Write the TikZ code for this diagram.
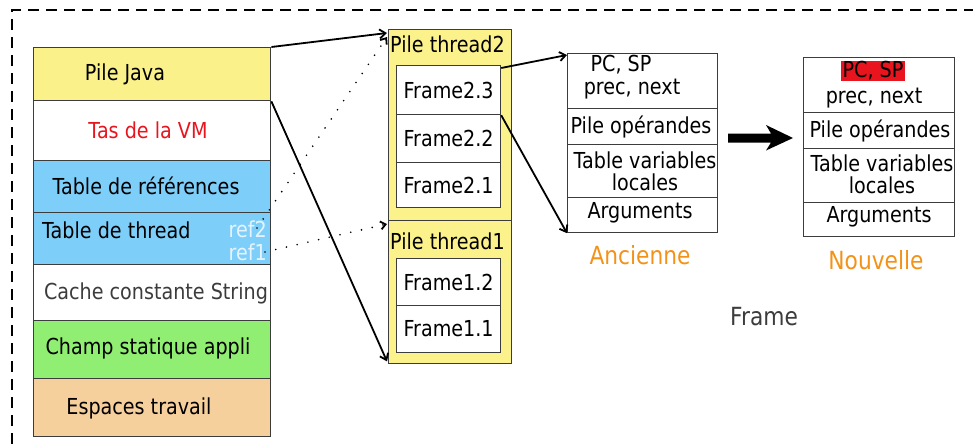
\documentclass[tikz,border=0pt]{standalone}
\usepackage{fontspec}
\setmainfont{DejaVu Sans}[FakeStretch=0.87]
\usetikzlibrary{arrows.meta,calc}
\definecolor{jyellow}{HTML}{FAF18A}
\definecolor{tyellow}{HTML}{FCF28C}
\definecolor{jblue}{HTML}{7DCFFA}
\definecolor{jgreen}{HTML}{90EE72}
\definecolor{jtan}{HTML}{F5CF9C}
\definecolor{jred}{HTML}{E8151F}
\definecolor{jorange}{HTML}{F39219}
\definecolor{jgray}{HTML}{3C3C3C}
\definecolor{reftext}{HTML}{E6F3FF}
\begin{document}
\begin{tikzpicture}[x=1pt,y=-1pt,
  every node/.style={font=\fontsize{22}{23}\selectfont, inner sep=0pt},
  big/.style={font=\fontsize{25}{27}\selectfont},
  cell/.style={draw=jgray, line width=1.4pt, anchor=north west},
  fbox/.style={draw=jgray, line width=1.2pt, fill=white, anchor=north west},
  conn/.style={line width=1.8pt, -{Straight Barb[length=6pt,width=9pt]}},
  dotconn/.style={line width=1.8pt, line cap=round, dash pattern=on 0pt off 11pt, -{Straight Barb[length=5pt,width=8pt]}},
]
\useasboundingbox (0,0) rectangle (973,444);
% dashed frame
\draw[line width=1.8pt, dash pattern=on 11pt off 7pt] (12,444) -- (12,10) -- (973,10);

% left stack
\node[cell, fill=jyellow, minimum width=237pt, minimum height=53pt] (pj) at (33,47) {};
\node[cell, fill=white, minimum width=237pt, minimum height=60pt] (tas) at (33,100) {};
\node[cell, fill=jblue, minimum width=237pt, minimum height=52pt] (tref) at (33,160) {};
\node[cell, fill=jblue, minimum width=237pt, minimum height=52pt] (tthr) at (33,212) {};
\node[cell, fill=white, minimum width=237pt, minimum height=56pt] (cache) at (33,264) {};
\node[cell, fill=jgreen, minimum width=237pt, minimum height=58pt] (champ) at (33,320) {};
\node[cell, fill=jtan, minimum width=237pt, minimum height=58pt] (esp) at (33,378) {};
\node (tpj) at (125,74) {Pile Java};
\node[text=jred] (ttas) at (148,130) {Tas de la VM};
\node (ttref) at (146,186) {Table de références};
\node[anchor=west] (ttthr) at (42,230) {Table de thread};
\node[anchor=east, text=reftext] (ref2) at (267,229) {ref2};
\node[anchor=east, text=reftext] (ref1) at (267,252) {ref1};
\node[text=jgray] (tcache) at (156,293) {Cache constante String};
\node (tchamp) at (148,348) {Champ statique appli};
\node (tesp) at (139,408) {Espaces travail};

% thread stacks
\node[cell, fill=tyellow, minimum width=123pt, minimum height=191pt] (pt2) at (388,29) {};
\node[anchor=west] (tpt2) at (390,44) {Pile thread2};
\node[fbox, minimum width=104pt, minimum height=49pt] (f23) at (396,65) {Frame2.3};
\node[fbox, minimum width=104pt, minimum height=48pt] (f22) at (396,114) {Frame2.2};
\node[fbox, minimum width=104pt, minimum height=45pt] (f21) at (396,162) {Frame2.1};
\node[cell, fill=tyellow, minimum width=123pt, minimum height=143pt] (pt1) at (388,220) {};
\node[anchor=west] (tpt1) at (390,241) {Pile thread1};
\node[fbox, minimum width=104pt, minimum height=47pt] (f12) at (396,258) {Frame1.2};
\node[fbox, minimum width=104pt, minimum height=47pt] (f11) at (396,305) {Frame1.1};

% ancienne frame
\node[fbox, minimum width=150pt, minimum height=55pt] (ahead) at (567,53) {};
\node (apc) at (621,65) {PC, SP};
\node (apn) at (632,89) {prec, next};
\node[fbox, minimum width=150pt, minimum height=36pt] (apile) at (567,108) {};
\node (tapile) at (641,127) {Pile opérandes};
\node[fbox, minimum width=150pt, minimum height=53pt] (atab) at (567,144) {};
\node (tatab1) at (645,160) {Table variables};
\node (tatab2) at (645,182) {locales};
\node[fbox, minimum width=150pt, minimum height=35pt] (aarg) at (567,197) {};
\node (taarg) at (640,213) {Arguments};
\node[big, text=jorange] (anc) at (640,255) {Ancienne};

% nouvelle frame
\node[fbox, minimum width=151pt, minimum height=55pt] (nhead) at (803,57) {};
\node[fill=jred, inner xsep=1.5pt, inner ysep=1pt] (npc) at (873,71) {PC, SP};
\node (npn) at (874,98) {prec, next};
\node[fbox, minimum width=151pt, minimum height=36pt] (npile) at (803,112) {};
\node (tnpile) at (880,131) {Pile opérandes};
\node[fbox, minimum width=151pt, minimum height=54pt] (ntab) at (803,148) {};
\node (tntab1) at (882,163) {Table variables};
\node (tntab2) at (882,185) {locales};
\node[fbox, minimum width=151pt, minimum height=34pt] (narg) at (803,202) {};
\node (tnarg) at (879,217) {Arguments};
\node[big, text=jorange] (nouv) at (876,260) {Nouvelle};

\node[big, text=jgray] (tframe) at (764,317) {Frame};

% big arrow
\coordinate (bigA) at (728,138);
\fill (bigA) ++(0,-4.5) -- ++(43,0) -- ++(-5,-8.5) -- ++(27,13) -- ++(-27,12.5) -- ++(5,-8) -- ++(-43,0) -- cycle;

% connectors
\draw[conn] (pj.north east) -- ($(pt2.north west)+(-1,4)$);
\draw[conn] (pj.south east) -- ($(pt1.south west)+(-1,-3)$);
\draw[dotconn] (257,228) -- ($(pt2.north west)+(-1,8)$);
\draw[dotconn] (265,252) -- ($(pt1.north west)+(-1,4)$);
\draw[conn] ($(f23.north east)+(0,3)$) -- ($(ahead.north west)+(0,2)$);
\draw[conn] (f23.south east) -- (aarg.south west);
\end{tikzpicture}
\end{document}
